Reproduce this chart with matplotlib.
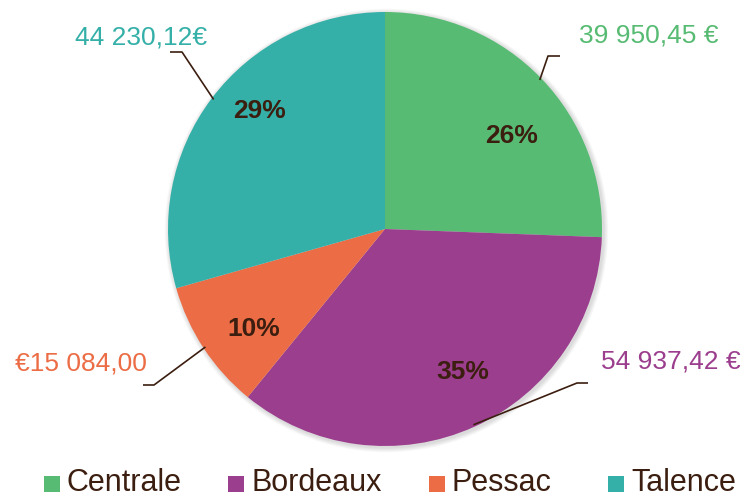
import numpy as np
from matplotlib import pyplot as plt
from matplotlib.patches import Circle, Rectangle

# data
categories = ['Centrale', 'Bordeaux', 'Pessac', 'Talence']
# slice shares (%) as drawn in the chart
shares = [25.6, 35.3, 9.7, 29.4]
value_labels = ['39 950,45 €', '54 937,42 €', '€15 084,00', '44 230,12€']
colors = ['#57BB73', '#9B3E8D', '#EC6D45', '#35B0A8']

W, H = 744, 497
cx, cy, R = 385, H - 229, 217
brown = '#3B1E10'

plt.rcParams['font.family'] = ['Liberation Sans', 'DejaVu Sans']

fig = plt.figure(figsize=(W / 100, H / 100), dpi=100)
ax = fig.add_axes([0, 0, 1, 1])

# soft shadow under the pie
for k in range(1, 7):
    ax.add_patch(Circle((cx + 1.5, cy - 1.5), R + k * 0.8, color='#000000',
                        alpha=0.025, lw=0, zorder=0))

wedges, _ = ax.pie(shares, colors=colors, startangle=90, counterclock=False,
                   center=(cx, cy), radius=R, frame=True,
                   wedgeprops={'linewidth': 0})
ax.set_xlim(0, W)
ax.set_ylim(0, H)
ax.set_aspect('equal')
ax.axis('off')

# percent labels (pixel positions, y from top)
pct_pos = [(512, 143), (463, 379), (254, 336), (260, 118)]
total = sum(shares)
for v, (px, py) in zip(shares, pct_pos):
    ax.text(px, H - py, '%d%%' % round(v / total * 100), ha='center',
            va='baseline', fontsize=19, fontweight='bold', color=brown)

# value labels with leader lines
lab_pos = [(649, 42), (671, 368), (81, 370), (141, 45)]
elbows = [((548, 56), (560, 56)), ((577, 383), (588, 383)),
          ((154, 385), (143, 385)), ((182, 52), (170, 52))]
start = 0.0
for v, lab, c, (lx, ly), (e1, e2) in zip(shares, value_labels, colors,
                                          lab_pos, elbows):
    frac = v / total
    mid = (start + frac / 2) * 2 * np.pi
    start += frac
    sx = cx + R * 0.99 * np.sin(mid)
    sy = cy + R * 0.99 * np.cos(mid)
    ax.plot([sx, e1[0], e2[0]], [sy, H - e1[1], H - e2[1]], color=brown,
            lw=1.2, solid_capstyle='butt')
    ax.text(lx, H - ly, lab, ha='center', va='baseline', fontsize=19,
            color=c)

# legend
leg_x = [44, 228, 429, 608]
for cat, c, x in zip(categories, colors, leg_x):
    ax.add_patch(Rectangle((x, H - 492), 16, 16, color=c, lw=0))
    ax.text(x + 23, H - 491, cat, ha='left', va='baseline',
            fontsize=22, color=brown)

fig.savefig('out.png', dpi=100)
